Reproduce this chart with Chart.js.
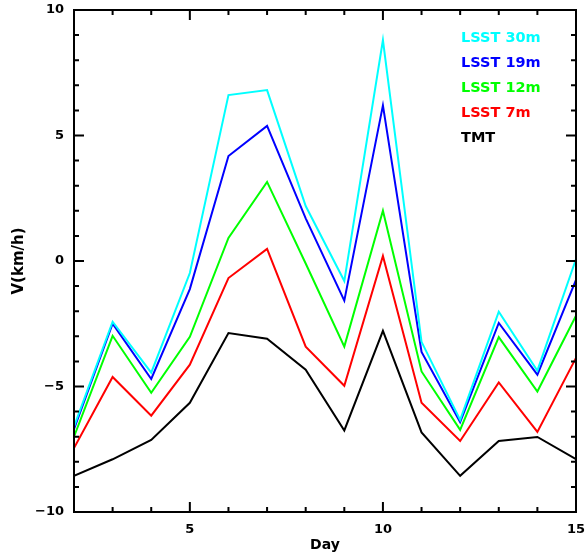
<!DOCTYPE html>
<html>
<head>
<meta charset="utf-8">
<script src="https://cdn.jsdelivr.net/npm/chart.js@4/dist/chart.umd.min.js"></script>
<style>
  html, body { margin: 0; padding: 0; background: #fff; }
  #wrap { width: 586px; height: 558px; }
</style>
</head>
<body>
<div id="wrap"><canvas id="speedChart"></canvas></div>
<script>
// days along the x axis
const days = [2, 3, 4, 5, 6, 7, 8, 9, 10, 11, 12, 13, 14, 15];

// V (km/h) per telescope
const lsst30 = [-6.6, -2.42, -4.45, -0.48, 6.61, 6.81, 2.19, -0.8, 8.8, -3.22, -6.33, -2.02, -4.37, 0.08];
const lsst19 = [-6.7, -2.5, -4.7, -1.12, 4.18, 5.38, 1.7, -1.58, 6.2, -3.62, -6.42, -2.47, -4.53, -0.75];
const lsst12 = [-7.0, -2.98, -5.25, -3.02, 0.92, 3.15, -0.1, -3.41, 2.0, -4.4, -6.73, -3.03, -5.2, -2.18];
const lsst7 = [-7.45, -4.62, -6.16, -4.13, -0.68, 0.48, -3.41, -4.97, 0.2, -5.65, -7.17, -4.84, -6.81, -3.86];
const tmt = [-8.56, -7.9, -7.13, -5.65, -2.87, -3.1, -4.33, -6.75, -2.78, -6.83, -8.56, -7.17, -7.01, -7.89];

const xTicks = [5, 10, 15];
const yTicks = [-10, -5, 0, 5, 10];

const FONT = "'DejaVu Sans', sans-serif";

function pts(values) {
  return days.map((d, i) => ({ x: d, y: values[i] }));
}

const data = {
  datasets: [
    { label: 'LSST 30m', borderColor: '#00ffff', data: pts(lsst30) },
    { label: 'LSST 19m', borderColor: '#0000ff', data: pts(lsst19) },
    { label: 'LSST 12m', borderColor: '#00ff00', data: pts(lsst12) },
    { label: 'LSST 7m', borderColor: '#ff0000', data: pts(lsst7) },
    { label: 'TMT', borderColor: '#000000', data: pts(tmt) }
  ]
};

// frame with inward ticks on all four sides, plus the text legend in the corner
const framePlugin = {
  id: 'frame',
  afterDraw(chart) {
    const ctx = chart.ctx;
    const a = chart.chartArea;
    const xs = chart.scales.x;
    const ys = chart.scales.y;
    ctx.save();
    ctx.strokeStyle = '#000';
    ctx.lineWidth = 2;
    ctx.strokeRect(a.left, a.top, a.right - a.left, a.bottom - a.top);

    for (let v = Math.ceil(xs.min); v <= xs.max; v++) {
      const px = xs.getPixelForValue(v);
      const len = v % 5 === 0 ? 10 : 5;
      ctx.beginPath();
      ctx.moveTo(px, a.bottom); ctx.lineTo(px, a.bottom - len);
      ctx.moveTo(px, a.top); ctx.lineTo(px, a.top + len);
      ctx.stroke();
    }
    for (let v = Math.ceil(ys.min); v <= ys.max; v++) {
      const py = ys.getPixelForValue(v);
      const len = v % 5 === 0 ? 10 : 5;
      ctx.beginPath();
      ctx.moveTo(a.left, py); ctx.lineTo(a.left + len, py);
      ctx.moveTo(a.right, py); ctx.lineTo(a.right - len, py);
      ctx.stroke();
    }

    ctx.font = 'bold 14.5px ' + FONT;
    ctx.textAlign = 'left';
    ctx.textBaseline = 'middle';
    chart.data.datasets.forEach((ds, i) => {
      ctx.fillStyle = ds.borderColor;
      ctx.fillText(ds.label, 461, 38 + i * 25);
    });
    ctx.restore();
  }
};

const config = {
  type: 'line',
  data: data,
  options: {
    animation: false,
    responsive: true,
    maintainAspectRatio: false,
    layout: { padding: { left: 0, right: 10, top: 10, bottom: 0 } },
    elements: {
      point: { radius: 0 },
      line: { borderWidth: 2, tension: 0 }
    },
    plugins: {
      legend: { display: false },
      tooltip: { enabled: false }
    },
    scales: {
      x: {
        type: 'linear',
        min: 2,
        max: 15,
        grid: { display: false, drawTicks: false, tickLength: 0 },
        border: { display: false },
        afterBuildTicks: (s) => { s.ticks = xTicks.map(v => ({ value: v })); },
        afterFit: (s) => { s.height = 46; s.paddingLeft = 0; s.paddingRight = 0; },
        ticks: {
          color: '#000',
          padding: 10,
          maxRotation: 0,
          font: { family: FONT, size: 13, weight: 'bold' }
        },
        title: {
          display: true,
          text: 'Day',
          color: '#000',
          padding: { top: 0, bottom: 4 },
          font: { family: FONT, size: 14, weight: 'bold' }
        }
      },
      y: {
        min: -10,
        max: 10,
        grid: { display: false, drawTicks: false, tickLength: 0 },
        border: { display: false },
        afterBuildTicks: (s) => { s.ticks = yTicks.map(v => ({ value: v })); },
        afterFit: (s) => { s.width = 74; s.paddingTop = 0; s.paddingBottom = 0; },
        ticks: {
          color: '#000',
          padding: 10,
          font: { family: FONT, size: 13, weight: 'bold' },
          callback: (v) => v < 0 ? '\u2212' + Math.abs(v) : String(v)
        },
        title: {
          display: true,
          text: 'V(km/h)',
          color: '#000',
          padding: { top: 10, bottom: 0 },
          font: { family: FONT, size: 15, weight: 'bold' }
        }
      }
    }
  },
  plugins: [framePlugin]
};

const speedChart = new Chart(document.getElementById('speedChart'), config);
</script>
</body>
</html>
